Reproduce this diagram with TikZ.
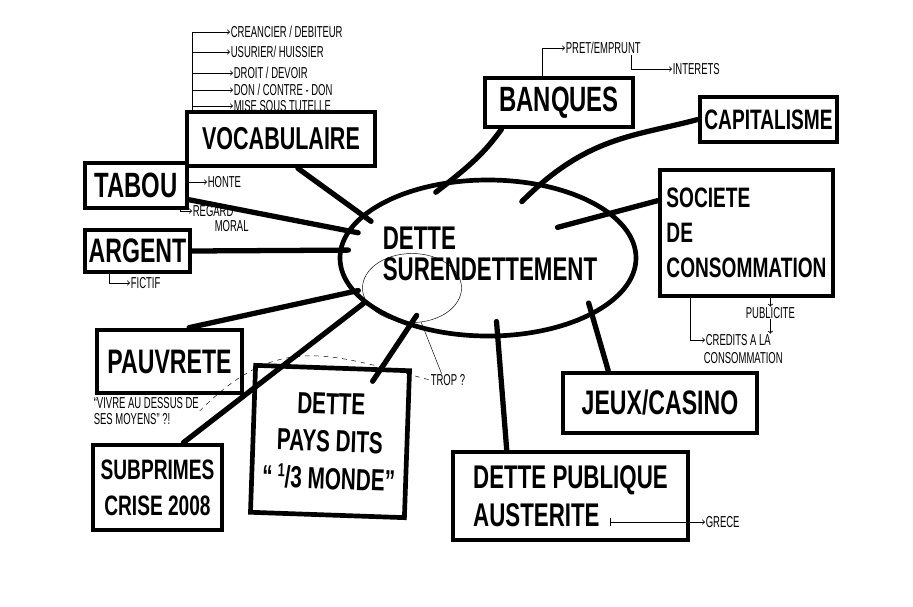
\documentclass[tikz,border=0pt]{standalone}
\usepackage{fontspec}
\usetikzlibrary{shapes.geometric}
\newfontfamily\hand[FakeStretch=0.68]{Liberation Sans}
\newfontfamily\jothand[FakeStretch=0.6]{Liberation Sans}
\newcommand\bighand[2]{\hand\bfseries\fontsize{#1}{#2}\selectfont}
\newcommand\notehand{\jothand\fontsize{13.5}{14}\selectfont}

\tikzset{
  box/.style={draw, line width=4pt, align=center, inner sep=2pt},
  link/.style={line width=4.5pt, line cap=round},
  note/.style={line width=0.7pt, ->},
  jot/.style={font=\notehand, inner sep=0.5pt, anchor=west}
}

\begin{document}
\begin{tikzpicture}[x=0.03cm, y=0.03cm]
    \fill[white] (0,0) rectangle (913,-606);
    \useasboundingbox (0,0) rectangle (913,-606);

    \node[ellipse, draw, line width=4pt, minimum width=8.88cm, minimum height=4.68cm] (centre) at (488,-258) {};
    \node[ellipse, draw, thin, minimum width=2.97cm, minimum height=2.07cm] (blob) at (412,-288) {};
    \node[align=left, font={\bighand{28}{27}}] (centretxt) at (490,-254) {DETTE\\SURENDETTEMENT};

    \node[box, minimum width=5.64cm, minimum height=1.62cm, font={\bighand{27}{30}}] (vocab) at (281,-139) {VOCABULAIRE};
    \node[box, minimum width=3.06cm, minimum height=1.35cm, font={\bighand{30}{32}}] (tabou) at (136,-185.5) {TABOU};
    \node[box, minimum width=3.15cm, minimum height=1.26cm, font={\bighand{29}{32}}] (argent) at (137.5,-251) {ARGENT};
    \node[box, minimum width=4.35cm, minimum height=1.89cm, font={\bighand{29}{32}}] (pauvrete) at (169.5,-361.5) {PAUVRETE};
    \node[box, minimum width=3.87cm, minimum height=2.55cm, font={\bighand{24}{31}}] (subprimes) at (157.5,-487.5) {SUBPRIMES\\CRISE 2008};
    \node[box, rotate=-2, minimum width=4.62cm, minimum height=4.41cm, font={\bighand{26}{32}}] (pays) at (330,-441.5)
        {DETTE\\PAYS DITS\\“\,{\fontsize{16}{16}\selectfont\raisebox{0.6em}{1}}/3 MONDE”};
    \node[box, align=left, minimum width=7.05cm, minimum height=2.64cm, font={\bighand{28}{32}}] (publique) at (570.5,-496) {DETTE PUBLIQUE\\AUSTERITE};
    \node[box, minimum width=5.82cm, minimum height=1.8cm, font={\bighand{29}{32}}] (jeux) at (660,-403) {JEUX/CASINO};
    \node[box, align=left, minimum width=5.19cm, minimum height=3.78cm, font={\bighand{24}{30}}] (societe) at (746.5,-233) {SOCIETE\\DE\\CONSOMMATION};
    \node[box, minimum width=4.44cm, minimum height=1.47cm, font={\bighand{30}{32}}] (banques) at (559,-102.5) {BANQUES};
    \node[box, minimum width=4.11cm, minimum height=1.35cm, font={\bighand{24}{30}}] (capital) at (768.5,-119.5) {CAPITALISME};

    \node[jot] (cre) at (230,-32) {CREANCIER / DEBITEUR};
    \node[jot] (usu) at (230,-52) {USURIER/ HUISSIER};
    \node[jot] (droit) at (233,-73) {DROIT / DEVOIR};
    \node[jot] (don) at (233,-90) {DON / CONTRE - DON};
    \node[jot] (mise) at (233,-106) {MISE SOUS TUTELLE};
    \foreach \n in {cre,usu,droit,don,mise}
        \draw[note] ([xshift=0.24cm]vocab.north west) |- (\n.west);

    \node[jot] (honte) at (207,-182) {HONTE};
    \draw[note] (tabou.east |- honte.west) -- (honte.west);
    \node[jot] (regard) at (192,-211) {REGARD};
    \node[jot] (moral) at (214,-226) {MORAL};
    \draw[note] ([xshift=-0.27cm]tabou.south east) |- (regard.west);
    \node[jot] (fictif) at (130,-283) {FICTIF};
    \draw[note] ([xshift=0.81cm]argent.south west) |- (fictif.west);
    \node[jot, align=left] (vivre) at (93,-411) {“VIVRE AU DESSUS DE\\SES MOYENS” ?!};

    \node[jot] (pret) at (565,-48) {PRET/EMPRUNT};
    \draw[note] ([xshift=-0.51cm]banques.north) |- (pret.west);
    \node[jot] (interets) at (672,-69) {INTERETS};
    \draw[note] ([xshift=-0.3cm]pret.south east) |- (interets.west);

    \node[jot] (grece) at (705,-522) {GRECE};
    \draw[note, |->] ([xshift=-2.4cm]publique.east |- grece.west) -- (grece.west);

    \node[jot] (publicite) at (745,-313) {PUBLICITE};
    \node[jot] (credits) at (705,-340) {CREDITS A LA};
    \node[jot] (conso) at (703,-358) {CONSOMMATION};
    \draw[note] (societe.south -| publicite.north) -- (publicite.north);
    \draw[note] (publicite.south) -- (credits.north -| publicite.south);
    \draw[note] ([xshift=0.99cm]societe.south west) |- (credits.west);

    \node[jot] (trop) at (430,-380) {TROP ?};
    \draw[thin] (blob.-75) -- (trop.135);
    \draw[thin, dash pattern=on 4pt off 4pt] (vivre.east) to[out=45,in=165,looseness=1.2] (trop.west);

    \draw[link, shorten >=-0.35cm] (vocab.-60) -- (centre.161);
    \draw[link, shorten >=-0.35cm] (tabou.-15) -- (centre.169);
    \draw[link, shorten >=-0.3cm] (argent.east) -- (centre.177);
    \draw[link, shorten >=-0.2cm] (pauvrete.60) -- (centre.194);
    \draw[link] (subprimes.60) -- (centre.200);
    \draw[link, shorten <=-0.5cm, shorten >=-0.4cm] (pays.57) -- (centre.221);
    \draw[link, shorten >=-0.6cm] (banques.-155) to[bend left=8] (centre.115);
    \draw[link, shorten >=-0.8cm] (capital.west) to[out=195,in=45] (centre.55);
    \draw[link, shorten >=-1.7cm] (societe.160) -- (centre.20);
    \draw[link, shorten >=-0.4cm] (jeux.148) -- (centre.-29);
    \draw[link, shorten >=-0.5cm] (publique.144) -- (centre.-83);
\end{tikzpicture}
\end{document}
